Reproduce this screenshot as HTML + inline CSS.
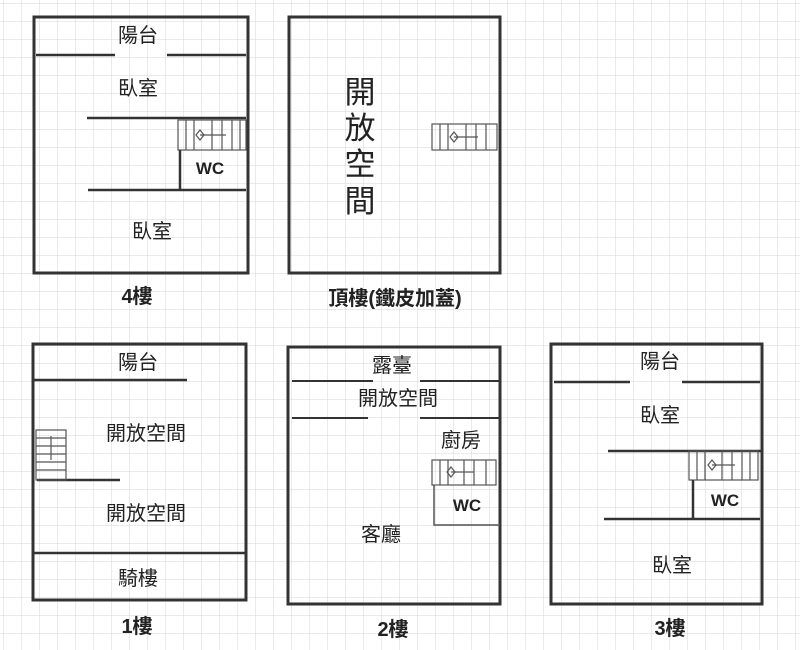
<!DOCTYPE html>
<html><head><meta charset="utf-8"><style>
html,body{margin:0;padding:0;background:#fff}
svg{display:block}
text{font-family:"Liberation Sans","Noto Sans CJK TC",sans-serif;fill:#222;text-anchor:middle}
.b{font-weight:bold}
</style></head><body>
<svg width="800" height="650" viewBox="0 0 800 650" xmlns="http://www.w3.org/2000/svg">
<defs>
<pattern id="g" width="18" height="18" patternUnits="userSpaceOnUse" x="4" y="4">
<path d="M18 0V18M0 18H18" stroke="#d6d6d6" stroke-width="1" fill="none"/>
</pattern>
</defs>
<rect width="800" height="650" fill="url(#g)"/>
<g stroke="#333" fill="none" stroke-width="3">
<rect x="34" y="17" width="214" height="256"/>
<path d="M36 55H115M167 55H246M87 118H246M88 190H246" stroke-width="2.5"/>
<rect x="289" y="17" width="211" height="256"/>
<rect x="33" y="344" width="213" height="256"/>
<path d="M33 380H187M37 480H120M33 553H246" stroke-width="2.5"/>
<rect x="288" y="347" width="212" height="257"/>
<path d="M292 381H373M420 381H500M292 418H368M420 418H500" stroke-width="2"/>
<rect x="551" y="344" width="211" height="260"/>
<path d="M554 382H630M682 382H760M608 451H763M604 519H760" stroke-width="2.5"/>
</g>
<g stroke="#555" fill="none" stroke-width="1.2">
<rect x="178" y="120" width="68" height="30"/>
<path d="M186 120V150M194 120V150M212 120V150M222 120V150M232 120V150M240 120V150M200 135H226"/>
<path d="M200 130L204 135L200 140L196 135Z"/>
<rect x="432" y="124" width="65" height="26"/>
<path d="M440 124V150M448 124V150M466 124V150M476 124V150M486 124V150M454 137H478"/>
<path d="M454 132L458 137L454 142L450 137Z"/>
<rect x="432" y="460" width="64" height="25"/>
<path d="M440 460V485M448 460V485M464 460V485M474 460V485M486 460V485M451 472H474"/>
<path d="M451 467L455 472L451 477L447 472Z"/>
<rect x="689" y="451" width="69" height="29"/>
<path d="M697 451V480M705 451V480M722 451V480M732 451V480M742 451V480M750 451V480M712 465H735"/>
<path d="M712 460L716 465L712 470L708 465Z"/>
<rect x="36" y="430" width="30" height="50"/>
<path d="M36 438H66M36 446H66M36 454H66M36 462H66M36 470H66M51 436V460"/>
<path d="M434 485V525H500" stroke-width="1.5"/>
</g>
<g stroke="#333" stroke-width="2.5" fill="none">
<path d="M180 150V190"/>
<path d="M693 480V519"/>
</g>
<g font-size="20">
<text x="138" y="42">陽台</text>
<text x="138" y="95">臥室</text>
<text x="152" y="238">臥室</text>
<text x="138" y="369">陽台</text>
<text x="146" y="440">開放空間</text>
<text x="146" y="520">開放空間</text>
<text x="138" y="585">騎樓</text>
<text x="392" y="372">露臺</text>
<text x="398" y="405">開放空間</text>
<text x="461" y="447">廚房</text>
<text x="381" y="541">客廳</text>
<text x="660" y="368">陽台</text>
<text x="660" y="422">臥室</text>
<text x="672" y="572">臥室</text>
</g>
<g font-size="31">
<text x="360" y="103">開</text>
<text x="360" y="139">放</text>
<text x="360" y="175">空</text>
<text x="360" y="212">間</text>
</g>
<g font-size="17">
<text x="210" y="174" class="b">WC</text>
<text x="467" y="511" class="b">WC</text>
<text x="725" y="506" class="b">WC</text>
</g>
<g font-size="20">
<text x="137" y="303" class="b">4樓</text>
<text x="395" y="305" class="b">頂樓(鐵皮加蓋)</text>
<text x="137" y="633" class="b">1樓</text>
<text x="393" y="636" class="b">2樓</text>
<text x="670" y="635" class="b">3樓</text>
</g>
</svg>
</body></html>
